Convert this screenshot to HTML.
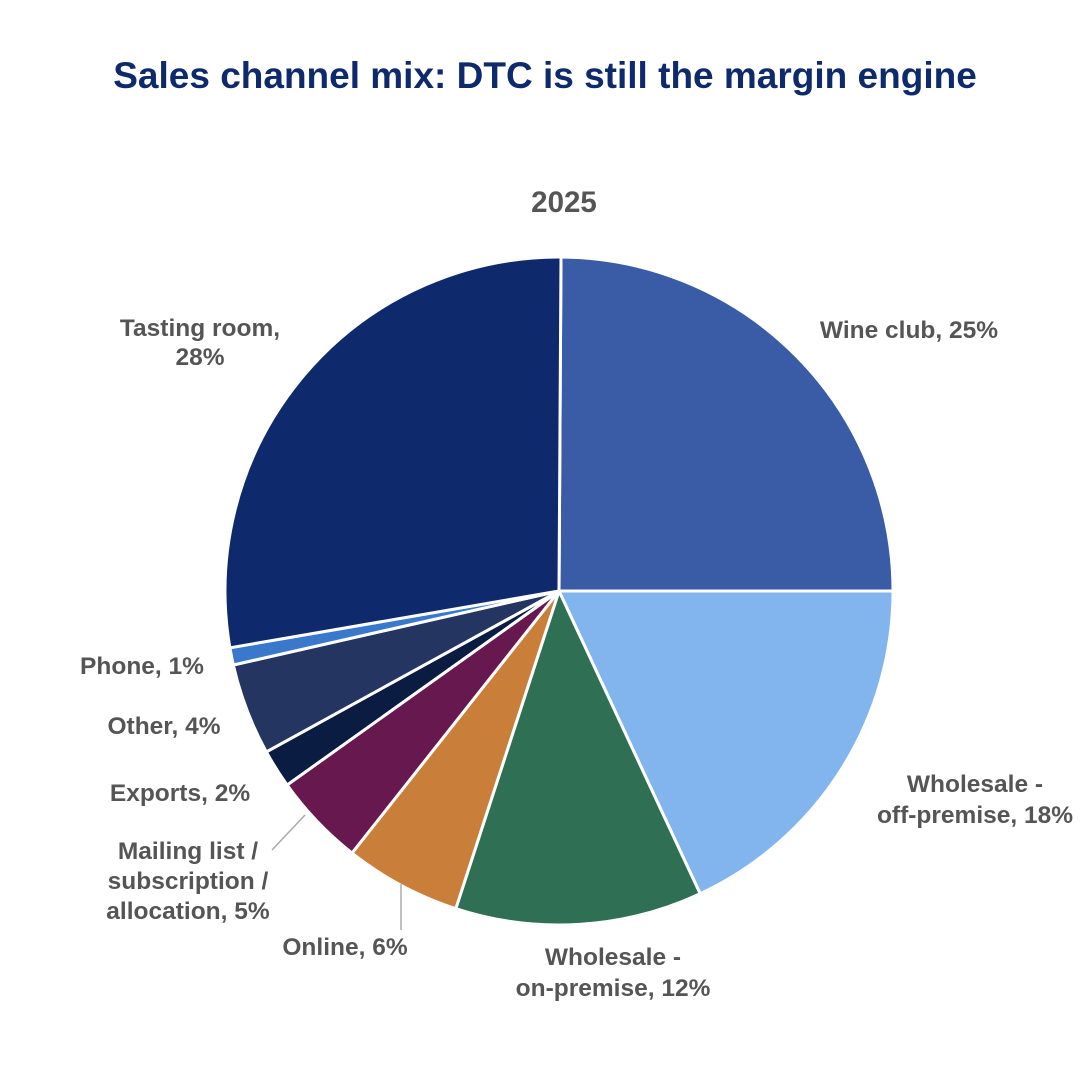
<!DOCTYPE html>
<html><head><meta charset="utf-8"><style>
html,body{margin:0;padding:0;background:#fff}
svg text{font-family:"Liberation Sans",Arial,sans-serif;font-weight:bold}
</style></head><body>
<svg width="1080" height="1080" viewBox="0 0 1080 1080" xmlns="http://www.w3.org/2000/svg">
<rect width="1080" height="1080" fill="#fff"/>
<text x="545" y="88" text-anchor="middle" font-size="37" fill="#0f2a6c">Sales channel mix: DTC is still the margin engine</text>
<text x="564" y="212" text-anchor="middle" font-size="29.5" fill="#555">2025</text>
<g stroke="#fff" stroke-width="3" stroke-linejoin="round">
<path d="M559,591 L561,257 A334,334 0 0 1 893,591 Z" fill="#3a5ba5"/>
<path d="M559,591 L893,591 A334,334 0 0 1 700.15,893.7 Z" fill="#82b5ee"/>
<path d="M559,591 L700.15,893.7 A334,334 0 0 1 455.8,908.7 Z" fill="#2f7055"/>
<path d="M559,591 L455.8,908.7 A334,334 0 0 1 352.0,853.1 Z" fill="#c97f3a"/>
<path d="M559,591 L352.0,853.1 A334,334 0 0 1 287.1,785.0 Z" fill="#66184f"/>
<path d="M559,591 L287.1,785.0 A334,334 0 0 1 266.3,751.9 Z" fill="#0b1c42"/>
<path d="M559,591 L266.3,751.9 A334,334 0 0 1 233.3,665.0 Z" fill="#243562"/>
<path d="M559,591 L233.3,665.0 A334,334 0 0 1 229.9,647.8 Z" fill="#3a78cc"/>
<path d="M559,591 L229.9,647.8 A334,334 0 0 1 561,257 Z" fill="#0f2a6c"/>
</g>
<g stroke="#aaa" stroke-width="1.5" fill="none">
<line x1="272" y1="850" x2="305" y2="815"/>
<line x1="401" y1="884" x2="401" y2="930"/>
</g>
<g font-size="24.5" fill="#555">
<text x="200" y="336" text-anchor="middle">Tasting room,</text>
<text x="200" y="365" text-anchor="middle">28%</text>
<text x="909" y="338" text-anchor="middle">Wine club, 25%</text>
<text x="975" y="792" text-anchor="middle">Wholesale -</text>
<text x="975" y="823" text-anchor="middle">off-premise, 18%</text>
<text x="613" y="965" text-anchor="middle">Wholesale -</text>
<text x="613" y="996" text-anchor="middle">on-premise, 12%</text>
<text x="345" y="955" text-anchor="middle">Online, 6%</text>
<text x="188" y="859" text-anchor="middle">Mailing list /</text>
<text x="188" y="889" text-anchor="middle">subscription /</text>
<text x="188" y="919" text-anchor="middle">allocation, 5%</text>
<text x="180" y="801" text-anchor="middle">Exports, 2%</text>
<text x="164" y="734" text-anchor="middle">Other, 4%</text>
<text x="142" y="674" text-anchor="middle">Phone, 1%</text>
</g>
</svg>
</body></html>
